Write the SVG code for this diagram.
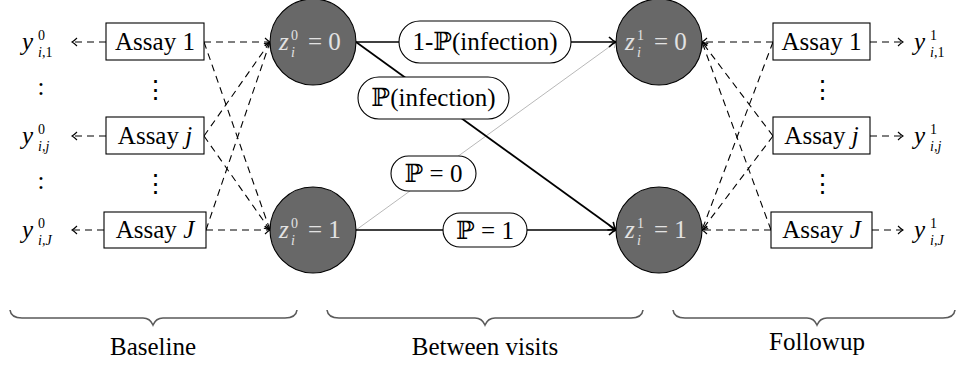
<svg xmlns="http://www.w3.org/2000/svg" width="956" height="368" viewBox="0 0 956 368" font-family="'Liberation Serif', 'DejaVu Serif', 'Times New Roman', serif">
  <style>
    text { font-family: 'Liberation Serif', 'DejaVu Serif', 'Times New Roman', serif; fill: #000; font-size: 25px; }
    .sm { font-size: 14px; }
    .it { font-style: italic; }
    .mid { text-anchor: middle; }
    .box { fill: #fff; stroke: #000; stroke-width: 1.1; }
    .state { fill: #686868; stroke: #000; stroke-width: 1.1; }
    text.state-txt { fill: #e2e2e2; }
    .pill { fill: #fff; stroke: #000; stroke-width: 1.1; }
    .dash { fill: none; stroke: #000; stroke-width: 1.1; stroke-dasharray: 7 5; marker-end: url(#tip); }
    .solid { fill: none; stroke: #000; stroke-width: 1.7; marker-end: url(#tipBold); }
    .faint { fill: none; stroke: #b8b8b8; stroke-width: 1; marker-end: url(#tipGrey); }
    .brace { fill: none; stroke: #5a5a5a; stroke-width: 1.6; }
  </style>
  <defs>
    <marker id="tip" viewBox="-7 -6 8 12" refX="0" refY="0" markerWidth="8" markerHeight="12" markerUnits="userSpaceOnUse" orient="auto">
      <path d="M-5,-4 Q-2,-1 0,0 Q-2,1 -5,4" fill="none" stroke="#000" stroke-width="1.1" stroke-dasharray="none"/>
    </marker>
    <marker id="tipBold" viewBox="-9 -7 10 14" refX="0" refY="0" markerWidth="10" markerHeight="14" markerUnits="userSpaceOnUse" orient="auto">
      <path d="M-7,-5 Q-3,-1 0,0 Q-3,1 -7,5" fill="none" stroke="#000" stroke-width="1.6"/>
    </marker>
    <marker id="tipGrey" viewBox="-7 -6 8 12" refX="0" refY="0" markerWidth="8" markerHeight="12" markerUnits="userSpaceOnUse" orient="auto">
      <path d="M-5,-4 Q-2,-1 0,0 Q-2,1 -5,4" fill="none" stroke="#b8b8b8" stroke-width="1"/>
    </marker>
  </defs>

  <rect width="956" height="368" fill="#fff"/>

  <!-- connectors -->
  <g id="connectors">
    <!-- baseline assays to outcomes -->
    <line class="dash" x1="106" y1="42" x2="72" y2="42"/>
    <line class="dash" x1="106" y1="136" x2="72" y2="136"/>
    <line class="dash" x1="104" y1="230" x2="72" y2="230"/>
    <!-- baseline assays to baseline states -->
    <line class="dash" x1="204" y1="42" x2="270" y2="42"/>
    <line class="dash" x1="204" y1="42" x2="270" y2="230"/>
    <line class="dash" x1="204" y1="136" x2="270" y2="42"/>
    <line class="dash" x1="204" y1="136" x2="270" y2="230"/>
    <line class="dash" x1="206" y1="230" x2="270" y2="42"/>
    <line class="dash" x1="206" y1="230" x2="270" y2="230"/>
    <!-- transitions between visits -->
    <line class="faint" x1="356" y1="230" x2="616" y2="42"/>
    <line class="solid" x1="356" y1="42" x2="616" y2="42"/>
    <line class="solid" x1="356" y1="42" x2="616" y2="230"/>
    <line class="solid" x1="356" y1="230" x2="616" y2="230"/>
    <!-- followup assays to followup states -->
    <line class="dash" x1="773" y1="42" x2="702" y2="42"/>
    <line class="dash" x1="773" y1="42" x2="702" y2="230"/>
    <line class="dash" x1="773" y1="136" x2="702" y2="42"/>
    <line class="dash" x1="773" y1="136" x2="702" y2="230"/>
    <line class="dash" x1="771" y1="230" x2="702" y2="42"/>
    <line class="dash" x1="771" y1="230" x2="702" y2="230"/>
    <!-- followup assays to outcomes -->
    <line class="dash" x1="870" y1="42" x2="903" y2="42"/>
    <line class="dash" x1="870" y1="136" x2="903" y2="136"/>
    <line class="dash" x1="872" y1="230" x2="903" y2="230"/>
    <!-- transition labels -->
    <g id="lbl-no-infection">
      <rect class="pill" x="399" y="21" width="172" height="42" rx="21"/>
      <text class="mid" x="485" y="50">1-ℙ(infection)</text>
    </g>
    <g id="lbl-infection">
      <rect class="pill" x="358" y="77" width="151" height="42" rx="21"/>
      <text class="mid" x="433.5" y="106">ℙ(infection)</text>
    </g>
    <g id="lbl-p0">
      <rect class="pill" x="391" y="156" width="85" height="35" rx="17.5"/>
      <text class="mid" x="433.5" y="182">ℙ = 0</text>
    </g>
    <g id="lbl-p1">
      <rect class="pill" x="443" y="213" width="84" height="34" rx="17"/>
      <text class="mid" x="485" y="239">ℙ = 1</text>
    </g>
  </g>

  <!-- baseline outcomes -->
  <g id="y0-1">
    <text x="22" y="50"><tspan class="it">y</tspan><tspan class="sm" x="38" y="40">0</tspan><tspan class="sm" x="38" y="57"><tspan class="it">i</tspan>,1</tspan></text>
  </g>
  <text class="mid" x="41" y="95">:</text>
  <g id="y0-j">
    <text x="22" y="144"><tspan class="it">y</tspan><tspan class="sm" x="38" y="134">0</tspan><tspan class="sm it" x="38" y="151">i,j</tspan></text>
  </g>
  <text class="mid" x="41" y="189">:</text>
  <g id="y0-J">
    <text x="22" y="238"><tspan class="it">y</tspan><tspan class="sm" x="38" y="228">0</tspan><tspan class="sm it" x="38" y="245">i,J</tspan></text>
  </g>

  <!-- baseline assays -->
  <g id="assay0-1">
    <rect class="box" x="106" y="23" width="98" height="37"/>
    <text class="mid" x="155" y="50">Assay 1</text>
  </g>
  <text class="mid" x="155" y="98">⋮</text>
  <g id="assay0-j">
    <rect class="box" x="106" y="117" width="98" height="37"/>
    <text class="mid" x="155" y="144">Assay <tspan class="it">j</tspan></text>
  </g>
  <text class="mid" x="155" y="192">⋮</text>
  <g id="assay0-J">
    <rect class="box" x="104" y="212" width="102" height="36"/>
    <text class="mid" x="155" y="238">Assay <tspan class="it">J</tspan></text>
  </g>

  <!-- latent states -->
  <g id="z0-0">
    <circle class="state" cx="313" cy="42" r="43"/>
    <text class="state-txt" x="279" y="50"><tspan class="it">z</tspan><tspan class="sm" x="291" y="40">0</tspan><tspan class="sm it" x="291" y="57">i</tspan><tspan x="308" y="50">= 0</tspan></text>
  </g>
  <g id="z0-1">
    <circle class="state" cx="313" cy="230" r="43"/>
    <text class="state-txt" x="279" y="238"><tspan class="it">z</tspan><tspan class="sm" x="291" y="228">0</tspan><tspan class="sm it" x="291" y="245">i</tspan><tspan x="308" y="238">= 1</tspan></text>
  </g>
  <g id="z1-0">
    <circle class="state" cx="659" cy="42" r="43"/>
    <text class="state-txt" x="625" y="50"><tspan class="it">z</tspan><tspan class="sm" x="637" y="40">1</tspan><tspan class="sm it" x="637" y="57">i</tspan><tspan x="654" y="50">= 0</tspan></text>
  </g>
  <g id="z1-1">
    <circle class="state" cx="659" cy="230" r="43"/>
    <text class="state-txt" x="625" y="238"><tspan class="it">z</tspan><tspan class="sm" x="637" y="228">1</tspan><tspan class="sm it" x="637" y="245">i</tspan><tspan x="654" y="238">= 1</tspan></text>
  </g>

  <!-- followup assays -->
  <g id="assay1-1">
    <rect class="box" x="773" y="23" width="97" height="37"/>
    <text class="mid" x="821.5" y="50">Assay 1</text>
  </g>
  <text class="mid" x="822" y="98">⋮</text>
  <g id="assay1-j">
    <rect class="box" x="773" y="117" width="97" height="37"/>
    <text class="mid" x="821.5" y="144">Assay <tspan class="it">j</tspan></text>
  </g>
  <text class="mid" x="822" y="192">⋮</text>
  <g id="assay1-J">
    <rect class="box" x="771" y="212" width="101" height="36"/>
    <text class="mid" x="821.5" y="238">Assay <tspan class="it">J</tspan></text>
  </g>

  <!-- followup outcomes -->
  <g id="y1-1">
    <text x="914" y="50"><tspan class="it">y</tspan><tspan class="sm" x="930" y="40">1</tspan><tspan class="sm" x="930" y="57"><tspan class="it">i</tspan>,1</tspan></text>
  </g>
  <g id="y1-j">
    <text x="914" y="144"><tspan class="it">y</tspan><tspan class="sm" x="930" y="134">1</tspan><tspan class="sm it" x="930" y="151">i,j</tspan></text>
  </g>
  <g id="y1-J">
    <text x="914" y="238"><tspan class="it">y</tspan><tspan class="sm" x="930" y="228">1</tspan><tspan class="sm it" x="930" y="245">i,J</tspan></text>
  </g>

  <!-- phase braces -->
  <g id="phase-baseline">
    <path class="brace" d="M10,310 Q11,318 22,318 L143,318 Q150,318 153,325 Q156,318 163,318 L285,318 Q296,318 297,310"/>
    <text class="mid" x="153" y="355">Baseline</text>
  </g>
  <g id="phase-between">
    <path class="brace" d="M327,310 Q328,318 339,318 L475,318 Q482,318 485,325 Q488,318 495,318 L631,318 Q642,318 643,310"/>
    <text class="mid" x="485" y="355">Between visits</text>
  </g>
  <g id="phase-followup">
    <path class="brace" d="M673,310 Q674,318 685,318 L807,318 Q814,318 817,325 Q820,318 827,318 L943,318 Q954,318 955,310"/>
    <text class="mid" x="817" y="350">Followup</text>
  </g>
</svg>
